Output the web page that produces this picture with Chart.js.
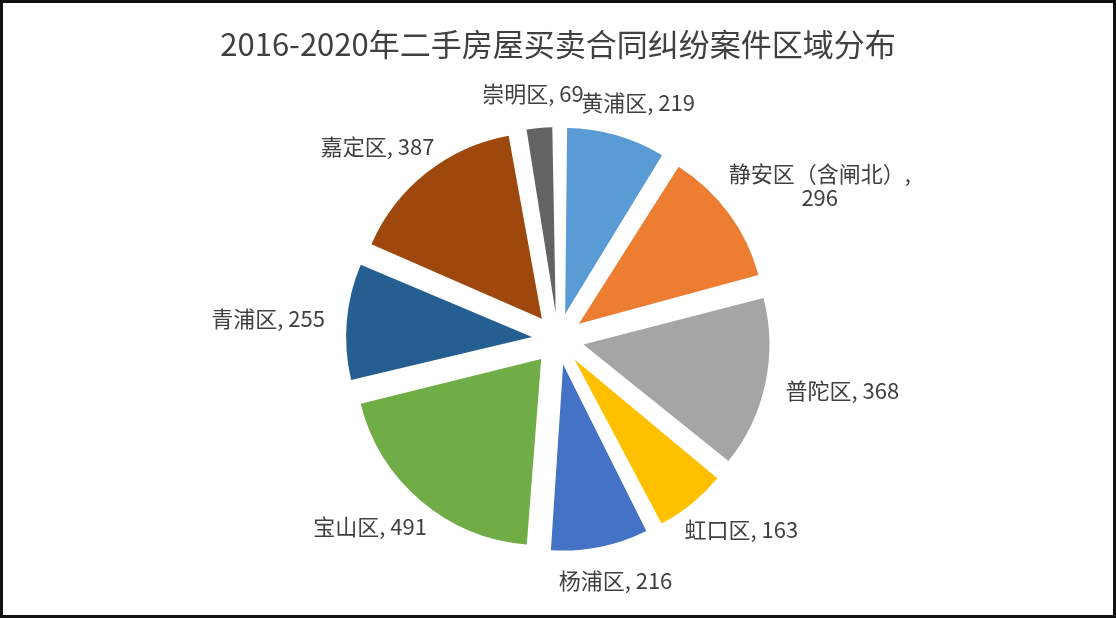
<!DOCTYPE html>
<html lang="zh-CN">
<head>
<meta charset="utf-8">
<title>二手房屋买卖合同纠纷案件区域分布</title>
<script src="https://cdn.jsdelivr.net/npm/chart.js@4.4.1/dist/chart.umd.min.js"></script>
<style>
  html, body { margin: 0; padding: 0; background: #fff; }
  #wrap { width: 1116px; height: 618px; }
</style>
</head>
<body>
<div id="wrap"><canvas id="pieChart" width="1116" height="618"></canvas></div>
<script>
const districts = ['黄浦区', '静安区（含闸北）', '普陀区', '虹口区', '杨浦区', '宝山区', '青浦区', '嘉定区', '崇明区'];
const cases = [219, 296, 368, 163, 216, 491, 255, 387, 69];
const sliceColors = ['#5B9BD5', '#ED7D31', '#A5A5A5', '#FFC000', '#4472C4', '#70AD47', '#255E91', '#9E480E', '#636363'];

const PIE_RADIUS = 186;
const EXPLODE = 26;     // px each slice is pulled out
const LABEL_GAP = 22;
const FONT = '"Noto Sans CJK SC", "Noto Sans", sans-serif';

// chart.js grows small exploded slices (radiusOffset), keep them all the same size
const evenRadius = {
  id: 'evenRadius',
  beforeDatasetsDraw(chart) {
    chart.getDatasetMeta(0).data.forEach(arc => {
      const fix = 1 - Math.sin(Math.min(Math.PI, arc.circumference));
      arc.outerRadius = PIE_RADIUS - EXPLODE * fix;
    });
  }
};

// excel style "name, value" labels outside the end of each slice
const outsideLabels = {
  id: 'outsideLabels',
  afterDatasetsDraw(chart) {
    const ctx = chart.ctx;
    const meta = chart.getDatasetMeta(0);
    const lh = 24;
    ctx.save();
    ctx.font = `22px ${FONT}`;
    ctx.fillStyle = '#404040';
    ctx.textAlign = 'center';
    ctx.textBaseline = 'middle';
    meta.data.forEach((arc, i) => {
      const mid = (arc.startAngle + arc.endAngle) / 2;
      const dx = Math.cos(mid), dy = Math.sin(mid);
      const d = PIE_RADIUS + EXPLODE + LABEL_GAP;
      let lines = [`${districts[i]}, ${cases[i]}`];
      if (ctx.measureText(lines[0]).width > 190) lines = [`${districts[i]},`, String(cases[i])];
      const w = Math.max(...lines.map(l => ctx.measureText(l).width));
      const h = lines.length * lh;
      const cx = arc.x + d * dx + dx * w / 2;
      const cy = arc.y + d * dy + dy * h / 2;
      lines.forEach((l, k) => ctx.fillText(l, cx, cy - h / 2 + lh * (k + 0.5)));
    });
    ctx.restore();
  }
};

const frame = {
  id: 'frame',
  afterDraw(chart) {
    const ctx = chart.ctx;
    ctx.save();
    ctx.strokeStyle = '#111';
    ctx.lineWidth = 6;
    ctx.strokeRect(0, 0, chart.width, chart.height);
    ctx.restore();
  }
};

new Chart(document.getElementById('pieChart'), {
  type: 'pie',
  data: {
    labels: districts,
    datasets: [{
      data: cases,
      backgroundColor: sliceColors,
      borderWidth: 0,
      offset: EXPLODE * 4
    }]
  },
  options: {
    responsive: false,
    animation: false,
    events: [],
    radius: PIE_RADIUS,
    layout: { padding: { top: 0, bottom: 13, left: 0, right: 0 } },
    plugins: {
      legend: { display: false },
      tooltip: { enabled: false },
      title: {
        display: true,
        text: '2016-2020年二手房屋买卖合同纠纷案件区域分布',
        color: '#404040',
        font: { family: FONT, size: 31, weight: 'normal' },
        padding: { top: 26, bottom: 10 }
      }
    }
  },
  plugins: [evenRadius, outsideLabels, frame]
});
</script>
</body>
</html>
